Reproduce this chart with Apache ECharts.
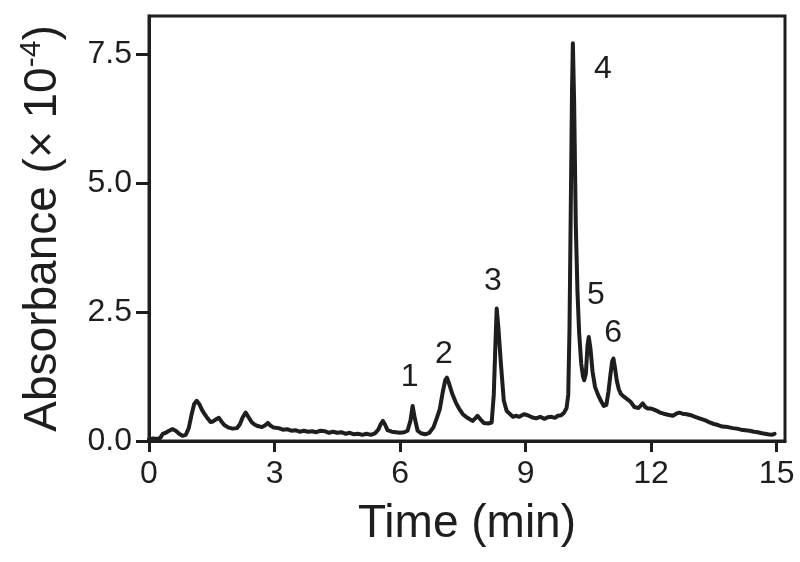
<!DOCTYPE html>
<html>
<head>
<meta charset="utf-8">
<script src="https://cdn.jsdelivr.net/npm/echarts@6/dist/echarts.min.js"></script>
<style>
html,body{margin:0;padding:0;background:#fff;}
#c{width:800px;height:562px;}
</style>
</head>
<body>
<div id="c"></div>
<script>
// Chromatogram trace (time in min, absorbance in 1e-4 units)
const times = [0.0,0.1,0.2,0.27,0.33,0.4,0.48,0.56,0.64,0.72,0.8,0.88,0.95,1.02,1.08,1.14,1.2,1.27,1.33,1.4,1.47,1.53,1.6,1.67,1.73,1.8,1.9,2.0,2.1,2.17,2.24,2.31,2.38,2.45,2.52,2.6,2.7,2.77,2.84,2.9,2.98,3.1,3.2,3.3,3.4,3.5,3.6,3.7,3.8,3.9,4.0,4.1,4.2,4.3,4.4,4.5,4.6,4.7,4.8,4.9,5.0,5.1,5.2,5.3,5.4,5.48,5.54,5.59,5.64,5.7,5.8,5.9,6.0,6.1,6.18,6.25,6.3,6.35,6.42,6.5,6.6,6.7,6.8,6.88,6.95,7.02,7.08,7.12,7.17,7.25,7.33,7.41,7.5,7.61,7.73,7.8,7.85,7.92,8.0,8.1,8.19,8.24,8.28,8.31,8.35,8.41,8.48,8.55,8.62,8.7,8.77,8.85,8.96,9.05,9.15,9.25,9.35,9.45,9.53,9.62,9.7,9.77,9.85,9.92,9.98,10.02,10.05,10.08,10.11,10.13,10.16,10.2,10.24,10.28,10.33,10.37,10.4,10.44,10.48,10.51,10.55,10.6,10.66,10.73,10.8,10.87,10.93,10.98,11.03,11.07,11.1,11.14,11.18,11.23,11.28,11.35,11.45,11.52,11.6,11.7,11.8,11.86,11.92,12.0,12.07,12.15,12.22,12.3,12.4,12.52,12.6,12.67,12.75,12.85,12.95,13.05,13.19,13.3,13.4,13.5,13.6,13.7,13.84,13.95,14.05,14.15,14.25,14.35,14.46,14.55,14.65,14.79,14.88,14.95];
const absorbance = [0.03,0.05,0.04,0.06,0.14,0.16,0.2,0.23,0.2,0.14,0.1,0.12,0.25,0.52,0.72,0.78,0.72,0.6,0.52,0.44,0.37,0.38,0.42,0.45,0.38,0.31,0.26,0.24,0.25,0.32,0.46,0.55,0.46,0.37,0.32,0.29,0.27,0.3,0.35,0.3,0.26,0.25,0.22,0.23,0.2,0.21,0.18,0.2,0.18,0.19,0.17,0.2,0.19,0.16,0.18,0.16,0.17,0.14,0.16,0.13,0.14,0.12,0.14,0.12,0.15,0.22,0.33,0.39,0.32,0.21,0.18,0.17,0.16,0.17,0.2,0.4,0.68,0.45,0.2,0.15,0.13,0.16,0.27,0.45,0.62,0.95,1.18,1.23,1.12,0.91,0.75,0.63,0.52,0.45,0.39,0.44,0.49,0.42,0.35,0.34,0.36,0.9,1.9,2.57,2.2,1.5,0.78,0.58,0.53,0.47,0.49,0.47,0.52,0.5,0.46,0.44,0.47,0.43,0.46,0.47,0.45,0.49,0.5,0.55,0.64,0.9,2.2,4.5,6.8,7.72,6.6,4.2,2.9,2.1,1.5,1.26,1.18,1.3,1.85,2.02,1.8,1.35,1.05,0.9,0.78,0.68,0.7,0.95,1.3,1.55,1.6,1.4,1.17,1.0,0.91,0.86,0.8,0.75,0.66,0.64,0.73,0.66,0.63,0.63,0.61,0.58,0.55,0.53,0.51,0.49,0.53,0.55,0.53,0.52,0.5,0.47,0.43,0.4,0.36,0.33,0.31,0.28,0.27,0.25,0.24,0.22,0.21,0.2,0.18,0.17,0.15,0.13,0.12,0.14];

// Peak annotations
const peakLabels = ['1','2','3','4','5','6'];
const peakLabelTimes = [6.23, 7.05, 8.22, 10.85, 10.68, 11.09];
const peakLabelAbs = [1.23, 1.69, 3.11, 7.22, 2.84, 2.1];

// Axis ticks
const xTicks = [0, 3, 6, 9, 12, 15];
const yTicks = [0, 2.5, 5, 7.5];

const FONT = '"Liberation Sans", Arial, Helvetica, sans-serif';
const INK = '#1e1e1e';

const chart = echarts.init(document.getElementById('c'), null, {renderer: 'canvas'});

const traceData = times.map((t, i) => [t, absorbance[i]]);
const labelData = peakLabels.map((n, i) => ({name: n, value: [peakLabelTimes[i], peakLabelAbs[i]]}));

chart.setOption({
  animation: false,
  backgroundColor: '#fff',
  grid: {
    left: 149, right: 15, top: 16, bottom: 121,
    show: true, borderColor: INK, borderWidth: 3, backgroundColor: 'transparent'
  },
  xAxis: {
    type: 'value', min: 0, max: 15.2, interval: 3,
    name: 'Time (min)', nameLocation: 'middle', nameGap: 60,
    nameTextStyle: {fontFamily: FONT, fontSize: 46, color: INK},
    axisLine: {show: true, onZero: false, lineStyle: {color: INK, width: 3}},
    axisTick: {show: true, length: 11, inside: false, lineStyle: {color: INK, width: 3}, customValues: xTicks},
    axisLabel: {fontFamily: FONT, fontSize: 32, color: INK, margin: 17, customValues: xTicks,
      formatter: v => String(v)},
    splitLine: {show: false}
  },
  yAxis: {
    type: 'value', min: 0, max: 8.25, interval: 2.5,
    name: 'Absorbance (× 10{sup|-4})', nameLocation: 'middle', nameGap: 80,
    nameTextStyle: {fontFamily: FONT, fontSize: 46, color: INK, lineHeight: 52,
      rich: {sup: {fontFamily: FONT, fontSize: 30, color: INK, verticalAlign: 'top', lineHeight: 32}}},
    axisLine: {show: true, lineStyle: {color: INK, width: 3}},
    axisTick: {show: true, length: 13, inside: false, lineStyle: {color: INK, width: 3}, customValues: yTicks},
    axisLabel: {fontFamily: FONT, fontSize: 32, color: INK, margin: 17, customValues: yTicks,
      formatter: v => Number(v).toFixed(1)},
    splitLine: {show: false}
  },
  series: [
    {
      type: 'line', data: traceData, showSymbol: false, symbol: 'none',
      lineStyle: {color: INK, width: 4, join: 'round', cap: 'round'},
      z: 3
    },
    {
      type: 'scatter', data: labelData, symbolSize: 1,
      itemStyle: {color: 'transparent', opacity: 1},
      label: {show: true, position: 'inside', formatter: p => p.name,
        fontFamily: FONT, fontSize: 32, color: INK, opacity: 1},
      z: 4
    }
  ]
});
</script>
</body>
</html>
